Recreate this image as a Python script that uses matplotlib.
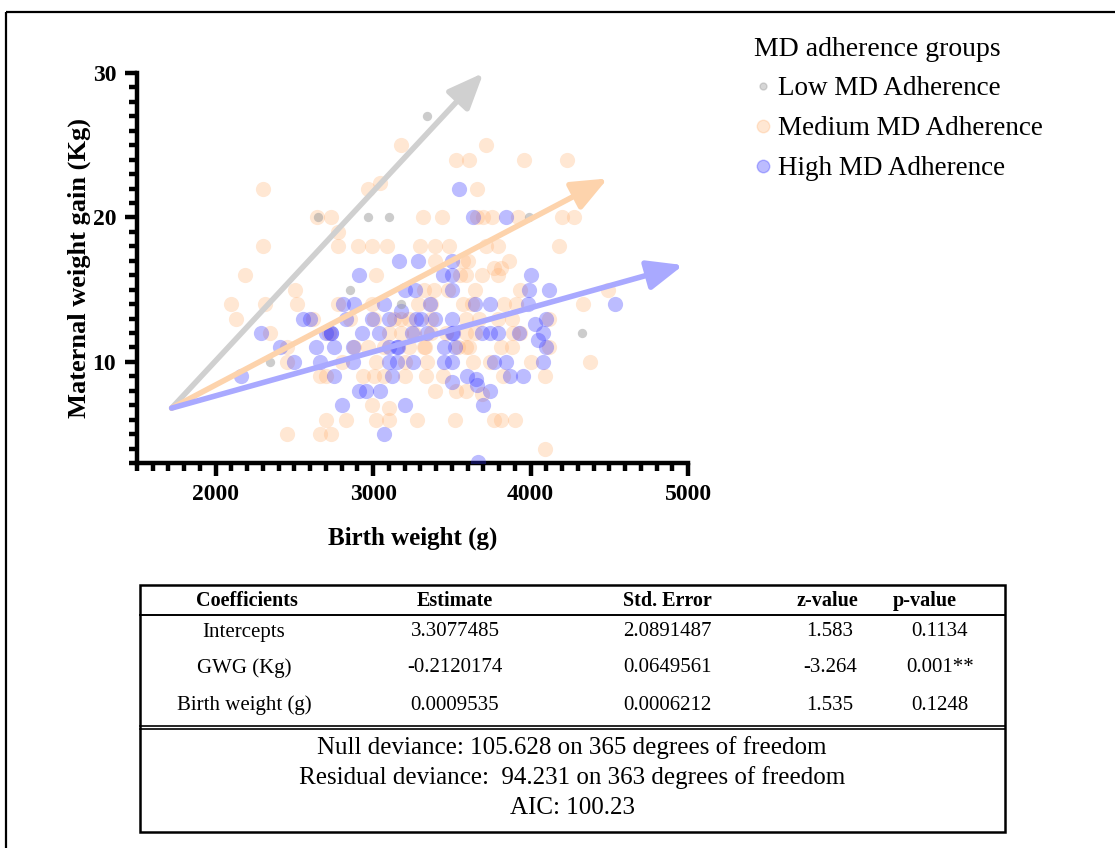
import numpy as np
import matplotlib.pyplot as plt
from matplotlib.lines import Line2D
from matplotlib.patches import Rectangle
from matplotlib.ticker import MultipleLocator

plt.rcParams['font.family'] = ['Liberation Serif', 'DejaVu Serif']

# scatter data (birth weight g, weight gain kg)
low_x = [3340, 2650, 2965, 3100, 3990, 2850, 3180, 2347, 4325]
low_y = [27, 20, 20, 20, 20, 15, 14, 10, 12]

med_x = [3180, 3715, 3525, 3610, 3960, 4230, 2300, 2965, 3045, 3660,
         2645, 2730, 3315, 3435, 3660, 3700, 3755, 3920, 4200, 4275,
         2300, 2775, 2775, 2905, 2990, 3085, 3300, 3395, 3480, 3715,
         3795, 4180, 2185, 3015, 3395, 3570, 3600, 3765, 3815, 3865,
         3550, 3590, 3690, 3795, 2505, 3320, 3385, 3475, 3650, 3930,
         4495, 2100, 2315, 2515, 2775, 2990, 3285, 3365, 3570, 3625,
         3830, 3905, 4330, 2130, 2615, 2855, 3005, 3130, 3180, 3230,
         3365, 3590, 3670, 3795, 3880, 4120, 2345, 2720, 3100, 3180,
         3365, 3590, 3645, 3890, 3930, 2450, 2880, 2965, 3070, 3230,
         3320, 3590, 3610, 3810, 3880, 4120, 2450, 2800, 3015, 3205,
         3340, 3635, 3745, 4000, 4375, 2660, 2700, 2935, 3005, 3070,
         3205, 3335, 3445, 3825, 4090, 3395, 3525, 3590, 3690, 2990,
         3100, 2700, 2825, 3015, 3100, 3280, 3520, 3770, 3810, 3900,
         2450, 2660, 2735, 4090, 3260, 3330, 3460, 3540]
med_y = [25, 25, 24, 24, 24, 24, 22, 22, 22.4, 22,
         20, 20, 20, 20, 20, 20, 20, 20, 20, 20,
         18, 19, 18, 18, 18, 18, 18, 18, 18, 18,
         18, 18, 16, 16, 17, 17, 17, 16.5, 16.5, 17,
         16, 16, 16, 16, 15, 15, 15, 15, 15, 15,
         15, 14, 14, 14, 14, 14, 14, 14, 14, 14,
         14, 14, 14, 13, 13, 13, 13, 13, 13, 13,
         13, 13, 13, 13, 13, 13, 12, 12, 12, 12,
         12, 12, 12, 12, 12, 11, 11, 11, 11, 11,
         11, 11, 11, 11, 11, 11, 10, 10, 10, 10,
         10, 10, 10, 10, 10, 9, 9, 9, 9, 9,
         9, 9, 9, 9, 9, 8, 8, 8, 7.8, 7,
         6.8, 6, 6, 6, 6, 6, 6, 6, 6, 6,
         5, 5, 5, 4, 12, 11, 12, 11]

high_x = [2160, 2290, 2410, 2500, 2555, 2600, 2660, 2640, 2700, 2735,
          2750, 2750, 2800, 2810, 2830, 2880, 2875, 2875, 2910, 2910,
          2955, 2930, 2995, 3040, 3045, 3070, 3070, 3100, 3100, 3100,
          3120, 3150, 3160, 3165, 3150, 3180, 3200, 3205, 3245, 3250,
          3265, 3285, 3305, 3345, 3360, 3390, 3445, 3450, 3450, 3500,
          3500, 3500, 3500, 3500, 3500, 3500, 3520, 3545, 3595, 3635,
          3650, 3655, 3660, 3665, 3695, 3690, 3740, 3745, 3790, 3765,
          3845, 3845, 3870, 3955, 3985, 3990, 4000, 4025, 4045, 4080,
          4080, 4100, 4100, 4120, 4535, 3925, 3745, 2730, 3270, 3510]
high_y = [9, 12, 11, 10, 13, 13, 10, 11, 12, 12,
          11, 9, 7, 14, 13, 14, 11, 10, 16, 8,
          8, 12, 13, 12, 8, 14, 5, 13, 10, 11,
          9, 11, 11, 17, 10, 13.5, 7, 15, 12, 10,
          15, 17, 13, 12, 14, 13, 16, 11, 10, 12,
          13, 15, 17, 16, 10, 8.6, 11, 22, 9, 20,
          14, 8.8, 8.4, 3.1, 7, 12, 12, 14, 12, 10,
          20, 10, 9, 9, 14, 15, 16, 12.6, 11.5, 12,
          10, 13, 11, 15, 14, 12, 8, 12, 13, 12]

# trend arrows (start shared, one end per group)
arrow_start = (1720, 6.8)
arrow_end_low = (3700, 30.0)
arrow_end_med = (4490, 22.7)
arrow_end_high = (4970, 16.7)

group_names = ['Low MD Adherence', 'Medium MD Adherence', 'High MD Adherence']

# regression table
col_names = ['Coefficients', 'Estimate', 'Std. Error', 'z-value', 'p-value']
row_names = ['Intercepts', 'GWG (Kg)', 'Birth weight (g)']
estimates = ['3.3077485', '-0.2120174', '0.0009535']
std_errors = ['2.0891487', '0.0649561', '0.0006212']
z_values = ['1.583', '-3.264', '1.535']
p_values = ['0.1134', '0.001**', '0.1248']
summary_lines = ['Null deviance: 105.628 on 365 degrees of freedom',
                 'Residual deviance:  94.231 on 363 degrees of freedom',
                 'AIC: 100.23']

c_low = '#9a9a9a'
c_med = '#ffb070'
c_high = '#3535ff'

fig = plt.figure(figsize=(11.15, 8.48), dpi=100)

W, H = 1115, 848
ax = fig.add_axes([137 / W, 1 - 463 / H, (688 - 137) / W, (463 - 73) / H])

ax.scatter(med_x, med_y, s=120, color=c_med, alpha=0.3, linewidths=0, zorder=2)
ax.scatter(high_x, high_y, s=120, color=c_high, alpha=0.33, linewidths=0, zorder=3)
ax.scatter(low_x, low_y, s=45, color=c_low, alpha=0.5, linewidths=0, zorder=4)

for end, col in [(arrow_end_low, '#d0d0d0'), (arrow_end_med, '#fdd3ac'),
                 (arrow_end_high, '#a9a9ff')]:
    ax.annotate('', xy=end, xytext=arrow_start,
                arrowprops=dict(arrowstyle='-|>,head_length=1.2,head_width=0.5',
                                lw=4, color=col, mutation_scale=18,
                                shrinkA=0, shrinkB=0),
                zorder=5)

ax.set_xlim(1500, 5000)
ax.set_ylim(3, 30)
ax.set_xticks([2000, 3000, 4000, 5000])
ax.set_yticks([10, 20, 30])
ax.xaxis.set_minor_locator(MultipleLocator(100))
ax.yaxis.set_minor_locator(MultipleLocator(1))
for s in ['top', 'right']:
    ax.spines[s].set_visible(False)
for s in ['left', 'bottom']:
    ax.spines[s].set_linewidth(3.2)
ax.tick_params(which='major', length=9, width=3.2, pad=6)
ax.tick_params(which='minor', length=6, width=3.2)
for lab in ax.get_xticklabels() + ax.get_yticklabels():
    lab.set_fontweight('bold')
    lab.set_fontsize(17)
ax.set_xlabel('Birth weight (g)', fontsize=18, fontweight='bold', labelpad=16)
ax.set_ylabel('Maternal weight gain (Kg)', fontsize=19, fontweight='bold', labelpad=1)

handles = [Line2D([], [], marker='o', ls='', ms=5, color=c_low, alpha=0.4),
           Line2D([], [], marker='o', ls='', ms=9, color=c_med, alpha=0.3),
           Line2D([], [], marker='o', ls='', ms=9, color=c_high, alpha=0.33)]
leg = ax.legend(handles, group_names, title='MD adherence groups',
                loc='upper left', bbox_to_anchor=(740 / W, 1 - 23 / H),
                bbox_transform=fig.transFigure, frameon=False, fontsize=19.5,
                title_fontsize=20, handletextpad=0.2, labelspacing=0.55,
                handlelength=0.7, borderpad=0)
leg._legend_box.align = 'left'

# table drawn in pixel coordinates
tab = fig.add_axes([0, 0, 1, 1])
tab.set_xlim(0, W)
tab.set_ylim(H, 0)
tab.axis('off')

tab.add_patch(Rectangle((6, 12), W, H, fill=False, lw=1.6, ec='black'))
tab.add_patch(Rectangle((140, 585), 865, 247, fill=False, lw=1.8, ec='black'))
tab.plot([140, 1005], [615, 615], color='black', lw=1.4)
tab.plot([140, 1005], [726, 726], color='black', lw=1.2)
tab.plot([140, 1005], [729, 729], color='black', lw=1.2)

head_x = [247, 455, 667, 827, 925]
cell_x = [244, 455, 667, 830, 940]
for x, name in zip(head_x, col_names):
    tab.text(x, 601, name, ha='center', va='center', fontsize=14.5, fontweight='bold')
row_y = [632, 668, 705]
for i, y in enumerate(row_y):
    vals = [row_names[i], estimates[i], std_errors[i], z_values[i], p_values[i]]
    for x, v in zip(cell_x, vals):
        tab.text(x, y, v, ha='center', va='center', fontsize=15)
for y, line in zip([748, 778, 808], summary_lines):
    tab.text(572, y, line, ha='center', va='center', fontsize=18)

fig.savefig('out.png', dpi=100)
